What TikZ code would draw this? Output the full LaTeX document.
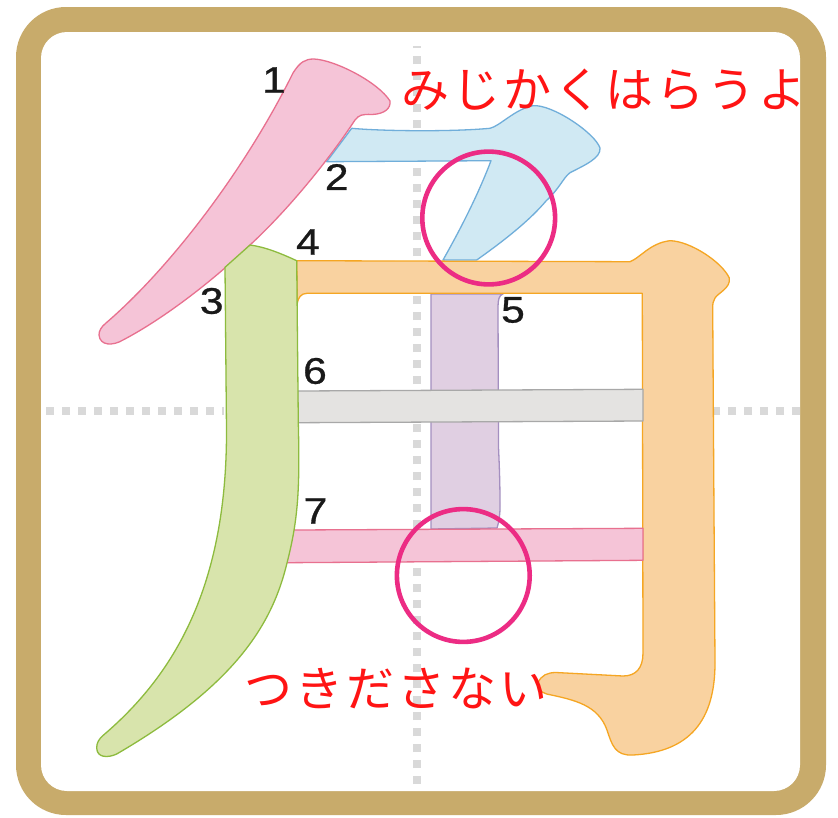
\documentclass[tikz,border=0pt]{standalone}
\usepackage{fontspec}
\setmainfont{Liberation Sans}
\newfontfamily\digitfont[FakeStretch=1.15,FakeBold=0.8]{Liberation Sans}
\newfontfamily\jafont[LetterSpace=6.5]{Noto Sans CJK JP}
\definecolor{gold}{HTML}{C8AB6B}
\definecolor{gridgray}{HTML}{D9D9D9}
\definecolor{pinkfill}{HTML}{F5C4D7}
\definecolor{pinkline}{HTML}{E8708F}
\definecolor{bluefill}{HTML}{D0E9F3}
\definecolor{blueline}{HTML}{70AEDA}
\definecolor{greenfill}{HTML}{D8E4AC}
\definecolor{greenline}{HTML}{8DBB3E}
\definecolor{orangefill}{HTML}{F9D2A0}
\definecolor{orangeline}{HTML}{F5A623}
\definecolor{purplefill}{HTML}{E0CFE2}
\definecolor{purpleline}{HTML}{A48FC0}
\definecolor{grayfill}{HTML}{E4E3E1}
\definecolor{grayline}{HTML}{A8A8A8}
\definecolor{ringcol}{HTML}{EC2C84}
\definecolor{jared}{HTML}{FF1414}
\tikzset{
  gridline/.style={gridgray,line width=8pt,dash pattern=on 8pt off 8pt},
  strokeshape/.style={line width=1.3pt,line join=round},
  pinkstroke/.style={strokeshape,fill=pinkfill,draw=pinkline},
  bluestroke/.style={strokeshape,fill=bluefill,draw=blueline},
  greenstroke/.style={strokeshape,fill=greenfill,draw=greenline},
  orangestroke/.style={strokeshape,fill=orangefill,draw=orangeline},
  purplestroke/.style={strokeshape,fill=purplefill,draw=purpleline},
  graystroke/.style={strokeshape,fill=grayfill,draw=grayline},
  ring/.style={draw=ringcol,line width=4.6pt},
  num/.style={inner sep=0pt,text=black!90,font=\digitfont\fontsize{37}{37}\selectfont},
  hint/.style={inner sep=0pt,text=jared,font=\jafont\fontsize{48}{48}\selectfont}
}
\begin{document}
\begin{tikzpicture}[x=1pt,y=-1pt]
\useasboundingbox (0,0) rectangle (838,817);
\fill[white] (0,0) rectangle (838,817);
% frame
\fill[gold,rounded corners=50pt] (16,7) rectangle (826,815);
\fill[white,rounded corners=26pt] (41,32) rectangle (800,791);
% guides
\draw[gridline] (416.5,784) -- (416.5,46);
\draw[gridline] (46,410.5) -- (224,410.5);
\draw[gridline] (800,410.5) -- (713,410.5);
% stroke 5
\draw[purplestroke] (431,294) -- (503,294) .. controls (499,295) and (498,300) .. (498,307)
  -- (498.5,447) .. controls (500,480) and (500,495) .. (500,507)
  .. controls (500,515) and (499,522) .. (497,528)
  -- (431,529) -- cycle;
% stroke 2
\draw[bluestroke] (351.7,128.3) .. controls (380,131) and (450,132) .. (490,128.3)
  .. controls (500,126) and (515,109) .. (533,105.7)
  .. controls (552,104) and (595,133) .. (600,148)
  .. controls (601,158) and (585,165) .. (570,172.7)
  .. controls (563,178) and (560,188) .. (546,201)
  .. controls (530,220) and (505,240) .. (476.7,260)
  -- (443,260) .. controls (460,230) and (478,195) .. (491,160.7)
  -- (326.7,161.7) -- cycle;
% stroke 1
\draw[pinkstroke] (293,73) .. controls (300,62) and (305,59) .. (314,59)
  .. controls (335,60) and (378,82) .. (390,101)
  .. controls (391,108) and (385,114) .. (372,114.5)
  .. controls (362,114) and (359,115) .. (355,120)
  .. controls (330,158) and (290,208) .. (250,245)
  .. controls (215,279) and (165,318) .. (123,340)
  .. controls (113,346) and (100,346) .. (99,335)
  .. controls (99,331) and (101,327) .. (106,323)
  .. controls (170,268) and (245,170) .. (293,73) -- cycle;
% stroke 4
\draw[orangestroke] (296.7,260.7) -- (630,261.7)
  .. controls (640,258) and (650,243) .. (670,240.7)
  .. controls (690,241) and (722,262) .. (729.3,278)
  .. controls (731,288) and (718,293) .. (715,298)
  .. controls (713,301) and (712.7,304) .. (712.7,308)
  -- (714,513) -- (715,663)
  .. controls (715,720) and (690,752) .. (633,755)
  .. controls (615,756) and (612,745) .. (607,730)
  .. controls (598,705) and (575,700) .. (546.7,694)
  .. controls (540,692) and (537,688) .. (538,683)
  .. controls (541,675) and (548,672.5) .. (556,672.5)
  -- (623,676) .. controls (636,676) and (643,668) .. (643,653)
  -- (642.3,293.3) -- (307,293.3)
  .. controls (301,293.3) and (298,298) .. (297.3,303.3) -- cycle;
% stroke 6 and 7
\draw[graystroke] (297.7,391) -- (643,389.3) -- (643,421) -- (298,422.7) -- cycle;
\draw[pinkstroke] (293,530) -- (643,528.3) -- (643,560.3) -- (286.7,562.7) -- cycle;
% stroke 3
\draw[greenstroke] (225,267.3) -- (250,245)
  .. controls (265,247) and (280,253) .. (296.7,260.7)
  -- (298.3,423) .. controls (300,490) and (298,520) .. (287,563)
  .. controls (272,625) and (235,685) .. (116.7,754)
  .. controls (108,758) and (97,758) .. (96.7,748)
  .. controls (96.5,743) and (99,739) .. (103,735.5)
  .. controls (168,680) and (227,595) .. (226.5,430)
  -- cycle;
% rings
\draw[ring] (488.7,218) circle[radius=66.4];
\draw[ring] (463.3,575.5) circle[radius=66.4];
% numbers
\node[num] (n1) at (274,80) {1};
\node[num] (n2) at (336.7,177) {2};
\node[num] (n3) at (211.7,301) {3};
\node[num] (n4) at (308,242) {4};
\node[num] (n5) at (513,310) {5};
\node[num] (n6) at (315,371) {6};
\node[num] (n7) at (315.5,511) {7};
% notes
\node[hint,anchor=west] (top) at (401,90) {みじかくはらうよ};
\node[hint,anchor=west] (bottom) at (244,688) {つきださない};
\end{tikzpicture}
\end{document}
